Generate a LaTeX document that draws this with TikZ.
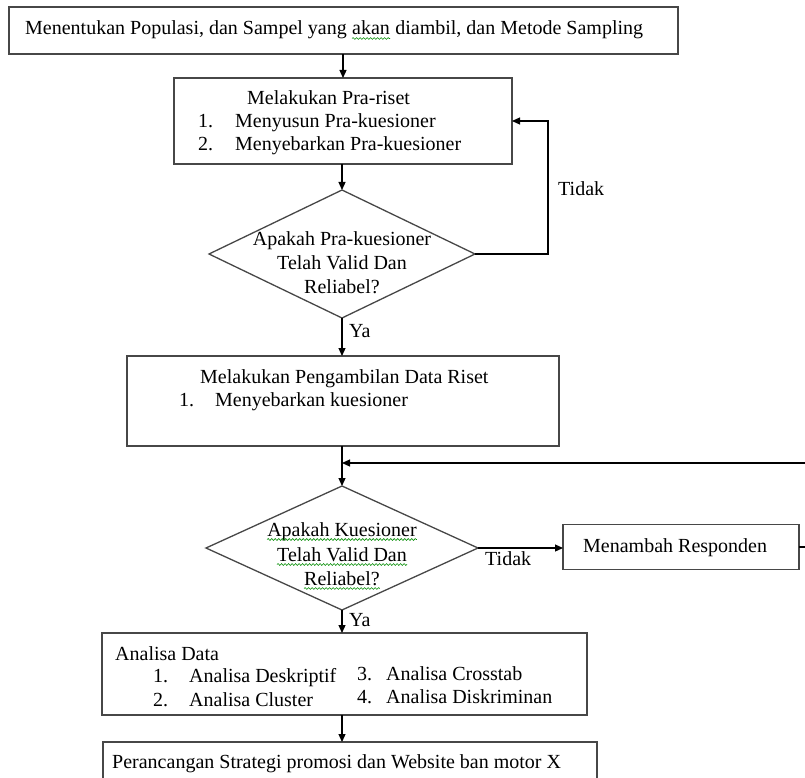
\documentclass[tikz,border=0pt]{standalone}
\usepackage{fontspec}
\setmainfont{Liberation Serif}
\usetikzlibrary{arrows.meta,shapes.geometric,decorations.pathmorphing}
\begin{document}
\begin{tikzpicture}[x=1pt,y=-1pt,
  box/.style={draw=black!72, line width=1.3pt, inner sep=0pt, outer sep=0pt, rectangle},
  dia/.style={draw=black!72, line width=1.3pt, diamond, inner sep=0pt, outer sep=0pt},
  t/.style={anchor=base west, inner sep=0pt, font=\fontsize{20}{23}\selectfont, text=black},
  tc/.style={t, anchor=base},
  arr/.style={-{Triangle[length=8pt,width=7pt]}, line width=1.2pt, black},
  ln/.style={line width=1.2pt, black},
  squig/.style={green!55!black, line width=0.6pt, decorate, decoration={snake, segment length=3.5pt, amplitude=0.9pt}}]
\useasboundingbox (0,0) rectangle (805,778);
\fill[white] (0,0) rectangle (805,778);
\clip (0,0) rectangle (805,778);

% boxes
\node[box, minimum width=669pt, minimum height=47pt] (b1) at (343.5,30.5) {};
\node[box, minimum width=338pt, minimum height=86pt] (b2) at (343,121) {};
\node[dia, minimum width=266pt, minimum height=128pt] (d1) at (342,254) {};
\node[box, minimum width=432pt, minimum height=90pt] (b3) at (343,401) {};
\node[dia, minimum width=272pt, minimum height=124pt] (d2) at (342,548) {};
\node[box, minimum width=236pt, minimum height=45pt] (b4) at (681,547) {};
\node[box, minimum width=485pt, minimum height=82pt] (b5) at (344.5,674) {};
\node[box, minimum width=494pt, minimum height=58pt] (b6) at (350,771) {};

% texts
\node[t] (t1a) at (25,35) {Menentukan Populasi, dan Sampel yang};
\node[t] (t1b) at ([xshift=5pt]t1a.base east) {akan};
\node[t] (t1c) at ([xshift=5pt]t1b.base east) {diambil, dan Metode Sampling};

\node[t] (t2a) at (247,105) {Melakukan Pra-riset};
\node[t] (t2b) at (198,128) {1.};
\node[t] (t2c) at (235,128) {Menyusun Pra-kuesioner};
\node[t] (t2d) at (198,151) {2.};
\node[t] (t2e) at (235,151) {Menyebarkan Pra-kuesioner};

\node[tc] (d1a) at (342,245) {Apakah Pra-kuesioner};
\node[tc] (d1b) at (342,269) {Telah Valid Dan};
\node[tc] (d1c) at (342,293) {Reliabel?};

\node[t] (tid1) at (558,196) {Tidak};
\node[t] (ya1) at (349,337) {Ya};

\node[t] (t3a) at (200,383) {Melakukan Pengambilan Data Riset};
\node[t] (t3b) at (179,406) {1.};
\node[t] (t3c) at (215,406) {Menyebarkan kuesioner};

\node[tc] (d2a) at (342,536) {Apakah Kuesioner};
\node[tc] (d2b) at (342,561) {Telah Valid Dan};
\node[tc] (d2c) at (342,585) {Reliabel?};

\node[t] (tid2) at (485,565) {Tidak};
\node[t] (t4) at (583,552) {Menambah Responden};
\node[t] (ya2) at (349,626) {Ya};

\node[t] (t5a) at (115,660) {Analisa Data};
\node[t] (t5b) at (153,682) {1.};
\node[t] (t5c) at (189,682) {Analisa Deskriptif};
\node[t] (t5d) at (153,706) {2.};
\node[t] (t5e) at (189,706) {Analisa Cluster};
\node[t] (t5f) at (357,680) {3.};
\node[t] (t5g) at (386,680) {Analisa Crosstab};
\node[t] (t5h) at (357,703) {4.};
\node[t] (t5i) at (386,703) {Analisa Diskriminan};

\node[t] (t6) at (112,768) {Perancangan Strategi promosi dan Website ban motor X};

% spell-check squiggles
\foreach \n in {t1b,d2a,d2b,d2c}
  \draw[squig] ([yshift=-3.5pt]\n.base west) -- ([yshift=-3.5pt]\n.base east);

% connectors
\coordinate (loopx) at (548,0);
\coordinate (fbR) at (805,463);
\coordinate (b4R) at (805,547);

\draw[arr] (b2.north |- b1.south) -- (b2.north);
\draw[arr] (d1.north |- b2.south) -- (d1.north);
\draw[arr] (d1.east) -| (loopx |- b2.east) -- (b2.east);
\draw[arr] (d1.south) -- (b3.north -| d1.south);
\draw[arr] (d2.north |- b3.south) -- (d2.north);
\draw[arr] (fbR) -- (fbR -| d2.north);
\draw[arr] (d2.east) -- (d2.east -| b4.west);
\draw[ln] (b4.east) -- (b4R);
\draw[arr] (d2.south) -- (b5.north -| d2.south);
\draw[arr] (d2.south |- b5.south) -- (b6.north -| d2.south);
\end{tikzpicture}
\end{document}
